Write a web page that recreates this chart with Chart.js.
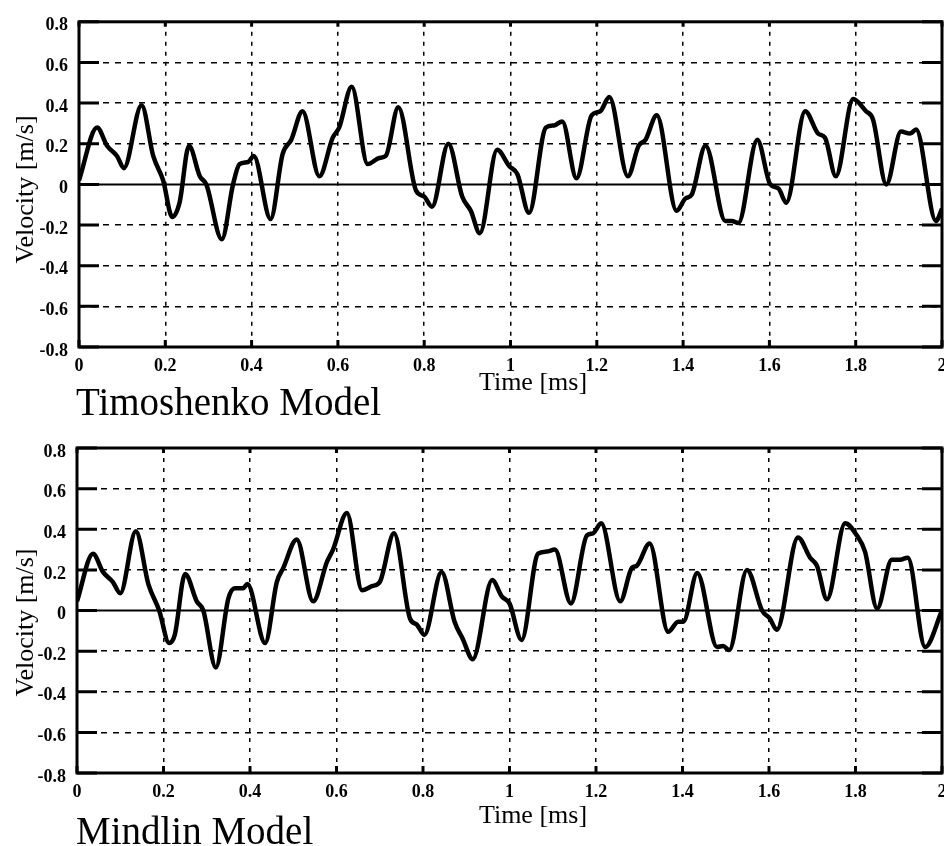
<!DOCTYPE html>
<html>
<head>
<meta charset="utf-8">
<script src="https://cdn.jsdelivr.net/npm/chart.js@4.4.1/dist/chart.umd.min.js"></script>
<style>
  html, body { margin: 0; padding: 0; background: #fff; }
  #wrap { position: relative; width: 944px; height: 846px; overflow: hidden; }
  canvas { position: absolute; left: 0; }
  #timo { top: 0; }
  #mind { top: 424px; }
</style>
</head>
<body>
<div id="wrap">
  <canvas id="timo" width="944" height="424"></canvas>
  <canvas id="mind" width="944" height="422"></canvas>
</div>
<script>
// ---- values ----
const timeTicks = [0, 0.2, 0.4, 0.6, 0.8, 1, 1.2, 1.4, 1.6, 1.8, 2];
const velocityTicks = [-0.8, -0.6, -0.4, -0.2, 0, 0.2, 0.4, 0.6, 0.8];

// Timoshenko model
const timoTime = [0, 0.042, 0.065, 0.088, 0.104, 0.145, 0.172, 0.195, 0.216, 0.233,
  0.255, 0.28, 0.295, 0.331, 0.357, 0.372, 0.392, 0.405, 0.444, 0.472,
  0.492, 0.518, 0.557, 0.588, 0.603, 0.632, 0.669, 0.696, 0.711, 0.74,
  0.781, 0.8, 0.818, 0.856, 0.888, 0.908, 0.929, 0.969, 0.997, 1.016,
  1.043, 1.082, 1.101, 1.12, 1.153, 1.188, 1.208, 1.229, 1.272, 1.297,
  1.313, 1.339, 1.385, 1.405, 1.42, 1.452, 1.498, 1.513, 1.528, 1.572,
  1.602, 1.621, 1.639, 1.683, 1.713, 1.729, 1.754, 1.794, 1.824, 1.84,
  1.871, 1.905, 1.926, 1.94, 1.986, 2.0];
const timoVel = [0.02, 0.28, 0.19, 0.14, 0.08, 0.39, 0.14, 0.02, -0.16, -0.09,
  0.19, 0.04, 0.0, -0.27, 0.0, 0.10, 0.11, 0.14, -0.17, 0.15,
  0.22, 0.36, 0.04, 0.23, 0.28, 0.48, 0.10, 0.13, 0.14, 0.38,
  -0.03, -0.06, -0.11, 0.20, -0.06, -0.13, -0.24, 0.17, 0.09, 0.05,
  -0.14, 0.28, 0.29, 0.31, 0.03, 0.34, 0.36, 0.43, 0.04, 0.19,
  0.22, 0.34, -0.13, -0.07, -0.05, 0.19, -0.18, -0.18, -0.19, 0.22,
  0.0, -0.02, -0.09, 0.36, 0.25, 0.23, 0.04, 0.42, 0.36, 0.32,
  0.0, 0.26, 0.25, 0.27, -0.18, -0.12];

// Mindlin model
const mindTime = [0, 0.037, 0.06, 0.083, 0.1, 0.136, 0.165, 0.19, 0.213, 0.226,
  0.25, 0.277, 0.292, 0.321, 0.35, 0.365, 0.384, 0.394, 0.435, 0.462,
  0.477, 0.508, 0.546, 0.578, 0.592, 0.624, 0.659, 0.682, 0.7, 0.733,
  0.77, 0.786, 0.803, 0.843, 0.873, 0.892, 0.915, 0.96, 0.982, 1.0,
  1.028, 1.066, 1.086, 1.105, 1.142, 1.179, 1.193, 1.212, 1.256, 1.283,
  1.294, 1.324, 1.367, 1.39, 1.402, 1.434, 1.48, 1.494, 1.508, 1.549,
  1.584, 1.602, 1.618, 1.667, 1.695, 1.711, 1.734, 1.776, 1.803, 1.822,
  1.85, 1.884, 1.903, 1.921, 1.961, 2.0];
const mindVel = [0.045, 0.28, 0.19, 0.14, 0.085, 0.39, 0.13, 0.0, -0.16, -0.12,
  0.18, 0.045, 0.0, -0.28, 0.06, 0.11, 0.11, 0.13, -0.16, 0.14,
  0.21, 0.35, 0.045, 0.24, 0.30, 0.48, 0.10, 0.12, 0.14, 0.38,
  -0.04, -0.07, -0.12, 0.19, -0.055, -0.14, -0.24, 0.15, 0.07, 0.035,
  -0.145, 0.28, 0.29, 0.30, 0.035, 0.37, 0.38, 0.43, 0.045, 0.21,
  0.22, 0.33, -0.105, -0.055, -0.055, 0.185, -0.18, -0.175, -0.195, 0.20,
  0.0, -0.04, -0.095, 0.36, 0.26, 0.22, 0.055, 0.43, 0.37, 0.29,
  0.01, 0.25, 0.25, 0.26, -0.18, 0.0];

const serif = "'Liberation Serif', 'Times New Roman', serif";

// zero line under the curve, heavy frame and inward ticks over it
const framePlugin = {
  id: 'frame',
  beforeDatasetsDraw(chart) {
    const {ctx, chartArea: a, scales: {y}} = chart;
    const y0 = y.getPixelForValue(0);
    ctx.save();
    ctx.strokeStyle = '#000';
    ctx.lineWidth = 2;
    ctx.beginPath();
    ctx.moveTo(a.left, y0);
    ctx.lineTo(a.right, y0);
    ctx.stroke();
    ctx.restore();
  },
  afterDatasetsDraw(chart) {
    const {ctx, chartArea: a, scales: {x, y}} = chart;
    ctx.save();
    ctx.strokeStyle = '#000';
    ctx.lineWidth = 3;
    ctx.strokeRect(a.left, a.top, a.right - a.left, a.bottom - a.top);
    ctx.beginPath();
    velocityTicks.forEach(v => {
      const py = y.getPixelForValue(v);
      ctx.moveTo(a.left, py); ctx.lineTo(a.left + 20, py);
      ctx.moveTo(a.right, py); ctx.lineTo(a.right - 20, py);
    });
    timeTicks.forEach(t => {
      const px = x.getPixelForValue(t);
      ctx.moveTo(px, a.bottom); ctx.lineTo(px, a.bottom - 7);
      ctx.moveTo(px, a.top); ctx.lineTo(px, a.top + 5);
    });
    ctx.stroke();
    ctx.restore();
  }
};

// axis titles and the model caption
const captionPlugin = {
  id: 'captions',
  afterDraw(chart, args, opts) {
    const {ctx, chartArea: a} = chart;
    ctx.save();
    ctx.fillStyle = '#000';
    ctx.textBaseline = 'alphabetic';
    ctx.font = '26px ' + serif;
    ctx.textAlign = 'center';
    ctx.fillText('Time [ms]', 533, a.bottom + opts.timeY);
    ctx.font = '39px ' + serif;
    ctx.textAlign = 'left';
    ctx.fillText(opts.model, 76, a.bottom + opts.modelY);
    ctx.translate(33, (a.top + a.bottom) / 2 + opts.velShift);
    ctx.rotate(-Math.PI / 2);
    ctx.font = '26px ' + serif;
    ctx.textAlign = 'center';
    ctx.fillText('Velocity [m/s]', 0, 0);
    ctx.restore();
  }
};

function velocityChart(id, times, vels, o) {
  return new Chart(document.getElementById(id), {
    type: 'line',
    data: {
      datasets: [{
        data: times.map((t, i) => ({x: t, y: vels[i]})),
        borderColor: '#000',
        borderWidth: 4.5,
        pointRadius: 0,
        cubicInterpolationMode: 'monotone',
        fill: false
      }]
    },
    options: {
      responsive: false,
      animation: false,
      events: [],
      layout: { padding: { top: o.top, right: 2, left: 0, bottom: 0 } },
      plugins: {
        legend: { display: false },
        tooltip: { enabled: false },
        captions: o.captions
      },
      scales: {
        x: {
          type: 'linear', min: 0, max: 2,
          afterBuildTicks: s => { s.ticks = timeTicks.map(v => ({value: v})); },
          afterFit: s => { s.height = o.axisH; s.paddingLeft = 0; s.paddingRight = 0; },
          grid: { color: '#000', lineWidth: 1.5, drawTicks: false },
          border: { display: false, dash: [4, 6] },
          ticks: {
            color: '#000', padding: 9, maxRotation: 0, autoSkip: false,
            font: { family: serif, size: 18, weight: 'bold' },
            callback: v => String(v)
          }
        },
        y: {
          type: 'linear', min: -0.8, max: 0.8,
          afterBuildTicks: s => { s.ticks = velocityTicks.map(v => ({value: v})); },
          afterFit: s => { s.width = o.left; },
          grid: {
            color: c => (c.tick && c.tick.value === 0) ? 'rgba(0,0,0,0)' : '#000',
            lineWidth: 1.5, drawTicks: false
          },
          border: { display: false, dash: [6, 6] },
          ticks: {
            color: '#000', padding: 11, labelOffset: 4, autoSkip: false,
            font: { family: serif, size: 18, weight: 'bold' },
            callback: v => String(v)
          }
        }
      }
    },
    plugins: [framePlugin, captionPlugin]
  });
}

velocityChart('timo', timoTime, timoVel, {
  top: 18, left: 79, axisH: 77,
  captions: { model: 'Timoshenko Model', timeY: 43, modelY: 68, velShift: 5 }
});

velocityChart('mind', mindTime, mindVel, {
  top: 24, left: 77, axisH: 73,
  captions: { model: 'Mindlin Model', timeY: 50, modelY: 71, velShift: 12 }
});
</script>
</body>
</html>
